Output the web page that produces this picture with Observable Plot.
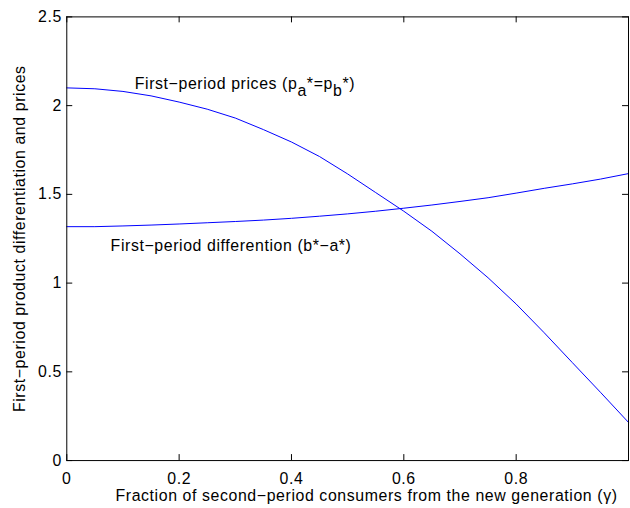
<!DOCTYPE html>
<html><head><meta charset="utf-8">
<script src="https://cdn.jsdelivr.net/npm/d3@7"></script>
<script src="https://cdn.jsdelivr.net/npm/@observablehq/plot@0.6"></script>
<style>html,body{margin:0;padding:0;background:#fff;overflow:hidden;width:630px;height:508px}</style>
</head><body><div id="chart"></div>
<script>
const gamma = [0,0.05,0.1,0.15,0.2,0.25,0.3,0.35,0.4,0.45,0.5,0.55,0.6,0.65,0.7,0.75,0.8,0.85,0.9,0.95,1.0];
const prices = [2.10,2.095,2.08,2.055,2.02,1.98,1.93,1.865,1.795,1.713,1.615,1.51,1.405,1.292,1.165,1.03,0.882,0.72,0.552,0.385,0.215];
const differentiation = [1.318,1.318,1.322,1.327,1.333,1.34,1.347,1.355,1.365,1.377,1.39,1.405,1.422,1.44,1.46,1.481,1.507,1.534,1.559,1.586,1.617];
const xTicks = [0,0.2,0.4,0.6,0.8,1];
const xTickLabels = [0,0.2,0.4,0.6,0.8];
const yTicks = [0,0.5,1,1.5,2,2.5];
const xLabel = "Fraction of second\u2212period consumers from the new generation (\u03b3)";
const yLabel = "First\u2212period product differentiation and prices";
const ann1 = "First\u2212period prices (pa*=pb*)";
const ann2 = "First\u2212period differention (b*\u2212a*)";

const W = 634, H = 508, mL = 66.7, mR = 2, mT = 16.5, mB = 45;
const pw = W - mL - mR, ph = H - mT - mB, tk = 6;

const rowsP = gamma.map((g, i) => ({g, v: prices[i]}));
const rowsD = gamma.map((g, i) => ({g, v: differentiation[i]}));

const chart = Plot.plot({
  width: W, height: H,
  marginLeft: mL, marginRight: mR, marginTop: mT, marginBottom: mB,
  x: {domain: [0, 1]},
  y: {domain: [0, 2.5]},
  style: {fontFamily: "'Liberation Sans', Arial, sans-serif", fontSize: "16px", letterSpacing: "0.6px", color: "#000", background: "#fff", overflow: "visible"},
  marks: [
    Plot.line(rowsP, {x: "g", y: "v", stroke: "#0000ff", strokeWidth: 1}),
    Plot.line(rowsD, {x: "g", y: "v", stroke: "#0000ff", strokeWidth: 1}),
    Plot.ruleX(xTicks, {insetTop: ph - tk, stroke: "#000"}),
    Plot.ruleX(xTicks, {insetBottom: ph - tk, stroke: "#000"}),
    Plot.ruleY(yTicks, {insetRight: pw - tk, stroke: "#000"}),
    Plot.ruleY(yTicks, {insetLeft: pw - tk, stroke: "#000"}),
    Plot.frame({stroke: "#000", strokeWidth: 1}),
    Plot.axisX(xTickLabels, {tickSize: 0, tickPadding: 12, tickFormat: d => String(d), label: null, fontSize: 16}),
    Plot.axisY(yTicks, {tickSize: 0, tickPadding: 5, tickFormat: d => String(d), label: null, fontSize: 16}),
    Plot.text([xLabel], {frameAnchor: "bottom", dx: 19, dy: 41, lineAnchor: "bottom", text: d => d, fontSize: 16}),
    Plot.text([yLabel], {frameAnchor: "left", dx: -42, rotate: -90, textAnchor: "middle", lineAnchor: "bottom", text: d => d, fontSize: 16}),
    Plot.text([ann1], {x: 0.121, y: 2.094, textAnchor: "start", lineAnchor: "bottom", text: d => d, fontSize: 16, className: "ann1"}),
    Plot.text([ann2], {x: 0.078, y: 1.181, textAnchor: "start", lineAnchor: "bottom", text: d => d, fontSize: 16})
  ]
});
document.getElementById("chart").appendChild(chart);

// subscripts for p_a and p_b
d3.select(chart).selectAll(".ann1 text").each(function() {
  const t = d3.select(this);
  t.text(null);
  const parts = [["First\u2212period prices (p", 0], ["a", 7], ["*=p", -7], ["b", 7], ["*)", -7]];
  parts.forEach(([s, dy]) => {
    const ts = t.append("tspan").text(s);
    if (dy) ts.attr("dy", dy);
  });
});
</script>
</body></html>
